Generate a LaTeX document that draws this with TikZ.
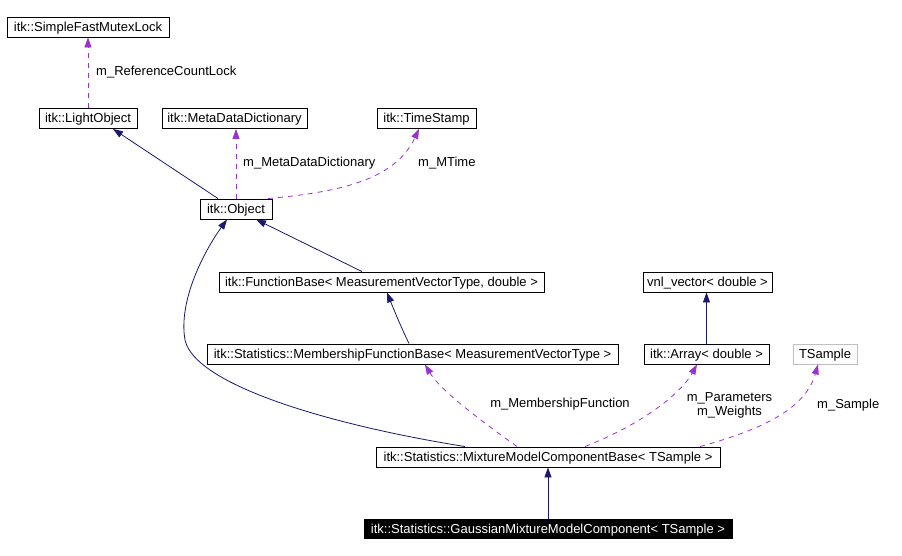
\documentclass[tikz,border=0pt]{standalone}
\usepackage{fontspec}
\setmainfont{Liberation Sans}
\usetikzlibrary{arrows.meta}
\definecolor{navy}{HTML}{191970}
\definecolor{orchid}{HTML}{9A32CD}
\definecolor{grayb}{HTML}{BFBFBF}
\tikzset{
  cls/.style={draw=black, line width=0.9pt, rectangle, minimum height=20pt, inner sep=0pt, text height=9pt, text depth=0pt, font=\fontsize{13}{15}\selectfont},
  inh/.style={draw=navy, line width=0.8pt, -{Triangle[length=10pt,width=7pt]}},
  dep/.style={draw=orchid, line width=0.8pt, dash pattern=on 5pt off 5pt, -{Triangle[length=10pt,width=7pt]}},
  lbl/.style={font=\fontsize{13}{14}\selectfont, inner sep=0pt, align=center}
}
\begin{document}
\begin{tikzpicture}[x=1pt,y=-1pt]
\useasboundingbox[fill=white] (0,0) rectangle (902,556);
\node[cls, minimum width=162pt] (sfml) at (88,27) {itk::SimpleFastMutexLock};
\node[cls, minimum width=98pt] (light) at (88,118.5) {itk::LightObject};
\node[cls, minimum width=145pt] (meta) at (234.5,118.5) {itk::MetaDataDictionary};
\node[cls, minimum width=99pt] (ts) at (426.5,118.5) {itk::TimeStamp};
\node[cls, minimum width=72pt] (obj) at (236,209) {itk::Object};
\node[cls, minimum width=325pt] (fb) at (381.5,282) {itk::FunctionBase< MeasurementVectorType, double >};
\node[cls, minimum width=129pt] (vnl) at (707.5,282) {vnl\_vector< double >};
\node[cls, minimum width=411pt] (mem) at (412.5,354) {itk::Statistics::MembershipFunctionBase< MeasurementVectorType >};
\node[cls, minimum width=125pt] (arr) at (706.5,354) {itk::Array< double >};
\node[cls, draw=grayb, minimum width=64pt] (tsam) at (825,354) {TSample};
\node[cls, minimum width=344pt] (mix) at (548,457) {itk::Statistics::MixtureModelComponentBase< TSample >};
\node[cls, fill=black, text=white, minimum width=368pt, minimum height=19pt] (gauss) at (548,528.5) {itk::Statistics::GaussianMixtureModelComponent< TSample >};

\draw[dep] (light.north) -- (sfml.south);
\draw[inh] ([xshift=-18pt]obj.north) -- ([xshift=25pt]light.south);
\draw[dep] (obj.north) -- (obj.north |- meta.south);
\draw[dep] ([xshift=32pt]obj.north) .. controls (340,192) and (395,180) .. ([xshift=-7.5pt]ts.south);
\draw[inh] ([xshift=-19.5pt]fb.north) -- ([xshift=20pt]obj.south);
\draw[inh] ([xshift=-3.5pt]mem.north) .. controls (400,325) and (392,305) .. ([xshift=5.5pt]fb.south);
\draw[inh] ([xshift=-83pt]mix.north) .. controls (330,425) and (195,385) .. (185,340)
  .. controls (178,300) and (205,250) .. ([xshift=-9pt]obj.south);
\draw[inh] (arr.north) -- (arr.north |- vnl.south);
\draw[dep] ([xshift=-31pt]mix.north) .. controls (480,420) and (440,390) .. ([xshift=12.5pt]mem.south);
\draw[dep] ([xshift=37pt]mix.north) .. controls (640,425) and (680,395) .. ([xshift=-9.5pt]arr.south);
\draw[dep] ([xshift=152pt]mix.north) .. controls (760,430) and (805,410) .. ([xshift=-7pt]tsam.south);
\draw[inh] (gauss.north) -- (mix.south);

\node[lbl, anchor=west] (l1) at (96,72) {m\_ReferenceCountLock};
\node[lbl, anchor=west] (l2) at (243,163) {m\_MetaDataDictionary};
\node[lbl, anchor=west] (l3) at (418,163) {m\_MTime};
\node[lbl] (l4) at (560,404) {m\_MembershipFunction};
\node[lbl] (l5) at (729.5,405) {m\_Parameters\\m\_Weights};
\node[lbl, anchor=west] (l6) at (817,405) {m\_Sample};
\end{tikzpicture}
\end{document}
